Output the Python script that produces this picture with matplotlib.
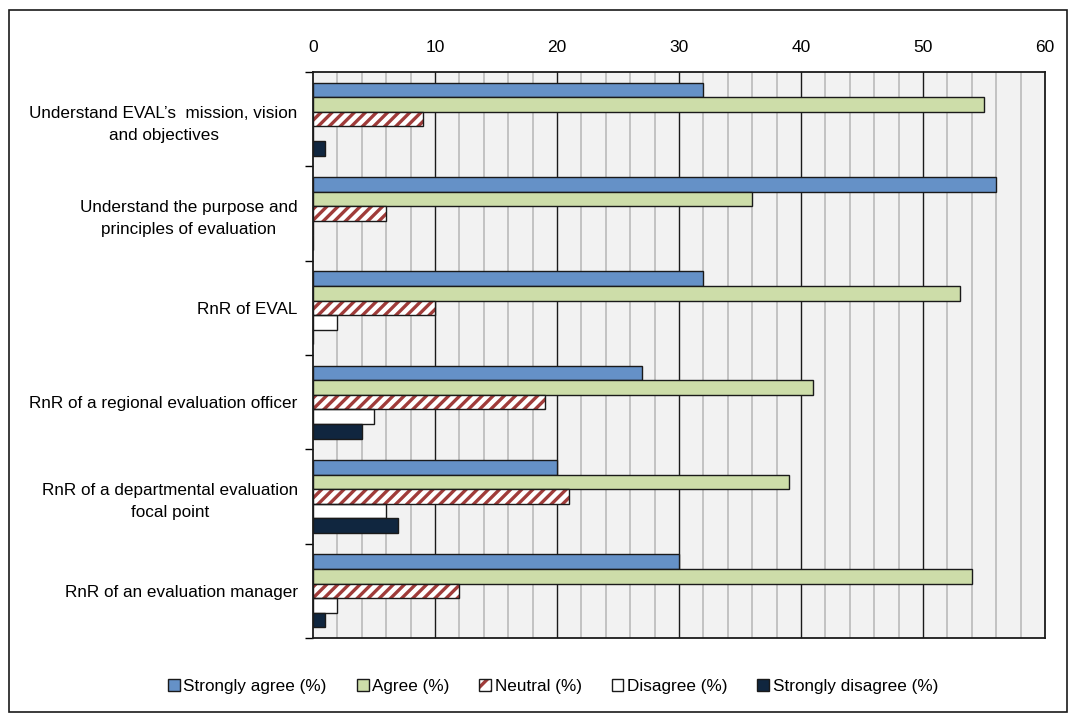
import matplotlib
matplotlib.use("Agg")
import matplotlib.pyplot as plt
import matplotlib.patches as mpatches
from matplotlib.legend_handler import HandlerTuple
import numpy as np

plt.rcParams['font.family'] = ['Liberation Sans Narrow', 'Liberation Sans', 'DejaVu Sans']
plt.rcParams['hatch.linewidth'] = 2.4

categories = [
    "Understand EVAL\u2019s  mission, vision\nand objectives",
    "Understand the purpose and\nprinciples of evaluation",
    "RnR of EVAL",
    "RnR of a regional evaluation officer",
    "RnR of a departmental evaluation\nfocal point",
    "RnR of an evaluation manager",
]
series_names = ["Strongly agree (%)", "Agree (%)", "Neutral (%)",
                "Disagree (%)", "Strongly disagree (%)"]
strongly_agree = [32, 56, 32, 27, 20, 30]
agree = [55, 36, 53, 41, 39, 54]
neutral = [9, 6, 10, 19, 21, 12]
disagree = [0, 0, 2, 5, 6, 2]
strongly_disagree = [1, 0, 0, 4, 7, 1]
x_ticks = [0, 10, 20, 30, 40, 50, 60]

series = [strongly_agree, agree, neutral, disagree, strongly_disagree]
colors = ['#6591C7', '#CDDDA9', 'white', 'white', '#10263F']
hatches = [None, None, '///', None, None]
hatch_color = '#A03C3A'
edge = '#1a1a1a'

fig = plt.figure(figsize=(10.75, 7.2), dpi=100)
ax = fig.add_axes([313 / 1075, 1 - 638 / 720, (1045 - 313) / 1075, (638 - 72) / 720])

n_cat = len(categories)
bar_h = 0.155
y_base = np.arange(n_cat)
for i, (vals, c, h, name) in enumerate(zip(series, colors, hatches, series_names)):
    offs = (i - 2) * bar_h
    if h:
        # hatch drawn in its own colour, outline on top
        ax.barh(y_base + offs, vals, height=bar_h, color=c, edgecolor=hatch_color,
                linewidth=0, hatch=h, zorder=3)
        ax.barh(y_base + offs, vals, height=bar_h, fill=False, edgecolor=edge,
                linewidth=1.0, zorder=3.1)
    else:
        ax.barh(y_base + offs, vals, height=bar_h, color=c, edgecolor=edge,
                linewidth=1.0, zorder=3)

ax.set_xlim(0, 60)
ax.set_ylim(n_cat - 0.5, -0.5)
ax.set_facecolor('#F2F2F2')

# grid: light minor lines every 2, dark major lines every 10
for v in np.arange(2, 60, 2):
    if v % 10 != 0:
        ax.axvline(v, color='#BFBFBF', linewidth=1.3, zorder=1)
for v in x_ticks[1:-1]:
    ax.axvline(v, color=edge, linewidth=1.0, zorder=1.5)

ax.xaxis.tick_top()
ax.set_xticks(x_ticks)
ax.set_xticklabels([str(t) for t in x_ticks], fontsize=12.5)
ax.tick_params(axis='x', length=0, pad=12)

ax.set_yticks(y_base)
ax.set_yticklabels(categories, fontsize=12.3, ha='right', multialignment='center',
                   linespacing=1.6)
ax.tick_params(axis='y', length=0, pad=11)
ax.set_yticks(np.arange(-0.5, n_cat, 1), minor=True)
ax.tick_params(axis='y', which='minor', length=6, width=1, direction='out')

for s in ax.spines.values():
    s.set_linewidth(1.3)
    s.set_color(edge)

handles = []
for c, h in zip(colors, hatches):
    if h:
        handles.append((mpatches.Patch(facecolor=c, edgecolor=hatch_color, hatch='//', linewidth=0),
                        mpatches.Patch(fill=False, edgecolor=edge, linewidth=1.0)))
    else:
        handles.append(mpatches.Patch(facecolor=c, edgecolor=edge, linewidth=1.0))
fig.legend(handles, series_names, loc='center', bbox_to_anchor=(553 / 1075, 1 - 686 / 720),
           ncol=5, frameon=False, fontsize=12.3, handlelength=0.7, handleheight=0.7,
           handletextpad=0.2, columnspacing=1.75,
           handler_map={tuple: HandlerTuple(ndivide=1, pad=0)})

frame = mpatches.Rectangle((9 / 1075, 8 / 720), (1067 - 9) / 1075, (711 - 9) / 720,
                           transform=fig.transFigure, fill=False, edgecolor=edge,
                           linewidth=1.2)
fig.patches.append(frame)

fig.savefig('out.png', dpi=100, facecolor='white')
